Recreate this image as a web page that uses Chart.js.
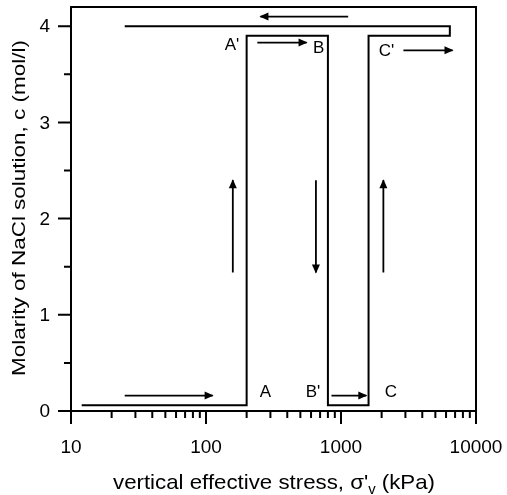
<!DOCTYPE html>
<html>
<head>
<meta charset="utf-8">
<script src="https://cdn.jsdelivr.net/npm/chart.js@4"></script>
<style>
  html, body { margin: 0; padding: 0; background: #fff; }
  canvas { display: block; }
</style>
</head>
<body>
<canvas id="chart" width="507" height="495"></canvas>
<script>
// trayectoria de carga (kPa) y concentración (mol/l)
const pathStress = [12, 200, 200, 800, 800, 1600, 1600, 6400, 6400, 25];
const pathMolarity = [0.06, 0.06, 3.9, 3.9, 0.06, 0.06, 3.9, 3.9, 4.0, 4.0];

// flechas: inicio -> fin
const arrowX0 = [25, 158, 652, 2060, 1130, 240, 2900, 850];
const arrowX1 = [112, 158, 652, 2060, 253, 556, 6700, 1540];
const arrowC0 = [0.16, 1.44, 2.40, 1.44, 4.10, 3.83, 3.75, 0.16];
const arrowC1 = [0.16, 2.40, 1.44, 2.40, 4.10, 3.83, 3.75, 0.16];

// etiquetas de puntos
const pointNames = ["A'", "B", "C'", "A", "B'", "C"];
const pointX = [156, 682, 2175, 275, 621, 2345];
const pointC = [3.80, 3.77, 3.74, 0.19, 0.19, 0.19];

// ticks
const xTicks = [10, 100, 1000, 10000];
const xMinor = [20, 30, 40, 50, 60, 70, 80, 90, 200, 300, 400, 500, 600, 700, 800, 900,
  2000, 3000, 4000, 5000, 6000, 7000, 8000, 9000];
const yTicks = [0, 1, 2, 3, 4];
const yMinor = [0.5, 1.5, 2.5, 3.5];

const FONT = "'Liberation Sans', Arial, sans-serif";

const datasets = [{
  data: pathStress.map((x, i) => ({ x: x, y: pathMolarity[i] })),
  showLine: true,
  borderColor: "#000",
  borderWidth: 2,
  pointRadius: 0,
  fill: false
}];
arrowX0.forEach((x0, i) => {
  datasets.push({
    data: [{ x: x0, y: arrowC0[i] }, { x: arrowX1[i], y: arrowC1[i] }],
    showLine: true,
    borderColor: "#000",
    borderWidth: 1.8,
    pointRadius: 0,
    fill: false
  });
});

const decoPlugin = {
  id: "deco",
  afterDraw(chart) {
    const ctx = chart.ctx;
    const xs = chart.scales.x, ys = chart.scales.y;
    const a = chart.chartArea;
    ctx.save();
    ctx.strokeStyle = "#000";
    ctx.fillStyle = "#000";
    ctx.lineWidth = 2;
    ctx.strokeRect(a.left, a.top, a.right - a.left, a.bottom - a.top);

    // ticks
    ctx.beginPath();
    xTicks.forEach(v => { const p = xs.getPixelForValue(v); ctx.moveTo(p, a.bottom); ctx.lineTo(p, a.bottom + 13); });
    xMinor.forEach(v => { const p = xs.getPixelForValue(v); ctx.moveTo(p, a.bottom); ctx.lineTo(p, a.bottom + 7); });
    yTicks.forEach(v => { const p = ys.getPixelForValue(v); ctx.moveTo(a.left, p); ctx.lineTo(a.left - 13, p); });
    yMinor.forEach(v => { const p = ys.getPixelForValue(v); ctx.moveTo(a.left, p); ctx.lineTo(a.left - 7, p); });
    ctx.stroke();

    // etiquetas de ticks
    ctx.font = "19px " + FONT;
    ctx.textAlign = "center";
    ctx.textBaseline = "alphabetic";
    xTicks.forEach(v => ctx.fillText(String(v), xs.getPixelForValue(v), a.bottom + 42));
    ctx.textAlign = "right";
    ctx.textBaseline = "middle";
    yTicks.forEach(v => ctx.fillText(String(v), a.left - 21, ys.getPixelForValue(v) + 1));

    // puntas de flecha
    arrowX0.forEach((x0, i) => {
      const px0 = xs.getPixelForValue(x0), py0 = ys.getPixelForValue(arrowC0[i]);
      const px1 = xs.getPixelForValue(arrowX1[i]), py1 = ys.getPixelForValue(arrowC1[i]);
      const ang = Math.atan2(py1 - py0, px1 - px0);
      ctx.save();
      ctx.translate(px1, py1);
      ctx.rotate(ang);
      ctx.beginPath();
      ctx.moveTo(1, 0);
      ctx.lineTo(-8, -4);
      ctx.lineTo(-8, 4);
      ctx.closePath();
      ctx.fill();
      ctx.restore();
    });

    // etiquetas de puntos
    ctx.font = "17px " + FONT;
    ctx.textAlign = "center";
    ctx.textBaseline = "middle";
    pointNames.forEach((t, i) => {
      ctx.fillText(t, xs.getPixelForValue(pointX[i]), ys.getPixelForValue(pointC[i]));
    });

    // título eje y (estirado al largo del original: y 40..376)
    const yTitle = "Molarity of NaCl solution, c (mol/l)";
    ctx.font = "19px " + FONT;
    const ky = 336 / ctx.measureText(yTitle).width;
    ctx.save();
    ctx.translate(20, 208);
    ctx.rotate(-Math.PI / 2);
    ctx.scale(ky, 1);
    ctx.fillText(yTitle, 0, 0);
    ctx.restore();

    // título eje x con subíndice (x 113..435)
    const parts = [["vertical effective stress, σ'", 21, 0], ["v", 14, 5], [" (kPa)", 21, 0]];
    let total = 0;
    parts.forEach(p => { ctx.font = p[1] + "px " + FONT; total += ctx.measureText(p[0]).width; });
    const kx = 322 / total;
    ctx.save();
    ctx.translate(274 - 161, 489);
    ctx.scale(kx, 1);
    ctx.textAlign = "left";
    ctx.textBaseline = "alphabetic";
    let x = 0;
    parts.forEach(p => {
      ctx.font = p[1] + "px " + FONT;
      ctx.fillText(p[0], x, p[2]);
      x += ctx.measureText(p[0]).width;
    });
    ctx.restore();
    ctx.restore();
  }
};

new Chart(document.getElementById("chart").getContext("2d"), {
  type: "scatter",
  data: { datasets: datasets },
  options: {
    responsive: false,
    animation: false,
    layout: { padding: { left: 0, right: 31, top: 7, bottom: 0 } },
    plugins: { legend: { display: false }, tooltip: { enabled: false } },
    scales: {
      x: {
        type: "logarithmic",
        min: 10,
        max: 10000,
        grid: { display: false },
        border: { display: false },
        afterBuildTicks: s => { s.ticks = xTicks.map(v => ({ value: v })); },
        afterFit: s => { s.height = 84; },
        ticks: { display: false }
      },
      y: {
        type: "linear",
        min: 0,
        max: 4.2,
        grid: { display: false },
        border: { display: false },
        afterBuildTicks: s => { s.ticks = yTicks.map(v => ({ value: v })); },
        afterFit: s => { s.width = 71; },
        ticks: { display: false }
      }
    }
  },
  plugins: [decoPlugin]
});
</script>
</body>
</html>
